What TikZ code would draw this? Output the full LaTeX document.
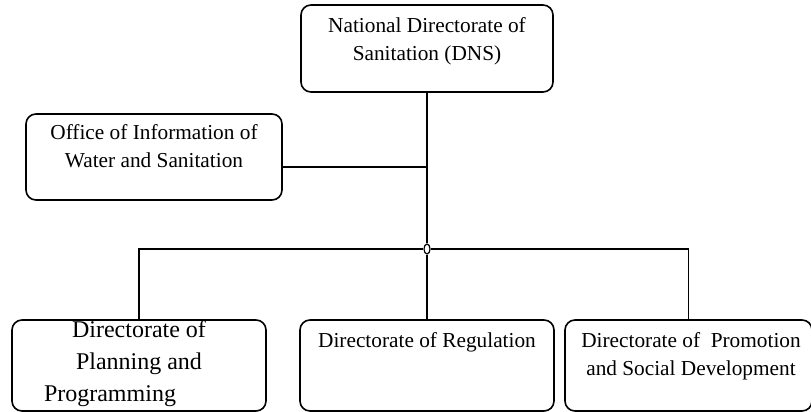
\documentclass[tikz,border=0pt]{standalone}
\usepackage{fontspec}
\setmainfont{Liberation Serif}
\usetikzlibrary{shapes.geometric}
\begin{document}
\begin{tikzpicture}[x=1pt, y=-1pt,
    box/.style={draw, line width=1.6pt, rounded corners=10pt, inner sep=0pt},
    txt/.style={align=center, inner sep=0pt, font=\fontsize{21.3}{28}\selectfont},
    link/.style={line width=1.6pt}]
    \useasboundingbox (0,0) rectangle (811,412);
    % boxes
    \node[box, minimum width=252pt, minimum height=87pt] (dns) at (427,48.5) {};
    \node[box, minimum width=256pt, minimum height=86pt] (office) at (154,157) {};
    \node[box, minimum width=254pt, minimum height=91pt] (plan) at (139,365.5) {};
    \node[box, minimum width=254pt, minimum height=91pt] (reg) at (427,365.5) {};
    \node[box, minimum width=247pt, minimum height=91pt] (prom) at (688.5,365.5) {};
    % texts
    \node[txt] (dnstxt) at (427,41) {National Directorate of\\Sanitation (DNS)};
    \node[txt] (officetxt) at (154,146) {Office of Information of\\Water and Sanitation};
    \node[txt, font=\fontsize{24}{32}\selectfont] (plantxt) at (139,364)
        {Directorate of\\Planning and\\\hspace*{-58pt}Programming};
    \node[txt] (regtxt) at (427,342) {Directorate of Regulation};
    \node[txt] (promtxt) at (691,356) {Directorate of~ Promotion\\and Social Development};
    % connectors
    \node[ellipse, draw, fill=white, line width=1.2pt, inner sep=0pt,
        minimum width=6pt, minimum height=10pt] (hub) at (427,249) {};
    \coordinate (tee) at (427,167);
    \draw[link] (dns.south) -- (tee) -- (hub.north);
    \draw[link] ([yshift=-10pt]office.east) -- (tee);
    \draw[link] (hub.south) -- (reg.north);
    \draw[link] (hub.west) -| (plan.north);
    \draw[link] (hub.east) -| (prom.north);
\end{tikzpicture}
\end{document}
